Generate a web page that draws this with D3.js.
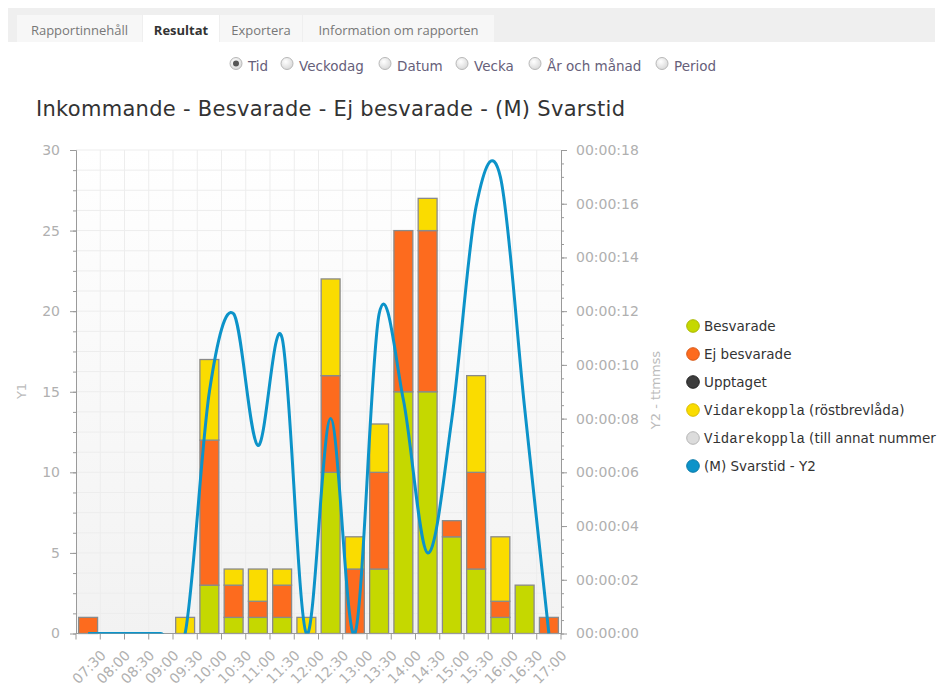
<!DOCTYPE html>
<html>
<head>
<meta charset="utf-8">
<script src="https://cdn.jsdelivr.net/npm/d3@7/dist/d3.min.js"></script>
<style>
  html, body { margin: 0; padding: 0; background: #fff; }
  svg { display: block; }
</style>
</head>
<body>
<svg id="chart" width="942" height="688"></svg>
<script>
// ---------------- DATA ----------------
const categories = ["07:30","08:00","08:30","09:00","09:30","10:00","10:30","11:00","11:30","12:00",
                    "12:30","13:00","13:30","14:00","14:30","15:00","15:30","16:00","16:30","17:00"];
const besvarade        = [0,0,0,0,0,3,1,1,1,0,10,0,4,15,15,6,4,1,3,0];
const ejBesvarade      = [1,0,0,0,0,9,2,1,2,0,6,4,6,10,10,1,6,1,0,1];
const upptaget         = [0,0,0,0,0,0,0,0,0,0,0,0,0,0,0,0,0,0,0,0];
const vidareRost       = [0,0,0,0,1,5,1,2,1,1,6,2,3,0,2,0,6,4,0,0];
const vidareAnnat      = [0,0,0,0,0,0,0,0,0,0,0,0,0,0,0,0,0,0,0,0];
const svarstidSek      = [0,0,0,0,0,9,11.9,7,11.0,0,8,0,11.9,8.7,3,8,15.9,17.0,8.4,0];

const y1Ticks = [0,5,10,15,20,25,30];
const y2Ticks = [0,2,4,6,8,10,12,14,16,18];

const tabs = ["Rapportinnehåll","Resultat","Exportera","Information om rapporten"];
const radios = ["Tid","Veckodag","Datum","Vecka","År och månad","Period"];
const title = "Inkommande - Besvarade - Ej besvarade - (M) Svarstid";

const seriesKeys = ["Besvarade","Ej besvarade","Upptaget","Vidarekoppla (röstbrevlåda)","Vidarekoppla (till annat nummer"];
const seriesColors = ["#c5d800","#fd6b1e","#3d3d3d","#fadc00","#dcdcdc"];
const lineName = "(M) Svarstid - Y2";
const lineColor = "#0c93c9";

// ---------------- SETUP ----------------
const svg = d3.select("#chart");
const FONT = "'DejaVu Sans', Verdana, sans-serif";

// Tabs
svg.append("rect").attr("x",8).attr("y",8).attr("width",927).attr("height",34).attr("fill","#efefef");
const tabX = [17,143,220,303,495];
tabs.forEach((t,i)=>{
  const x0 = tabX[i], x1 = tabX[i+1]-1;
  svg.append("rect").attr("x",x0).attr("y",15).attr("width",x1-x0).attr("height",27)
     .attr("fill", i===1 ? "#ffffff" : "#f7f7f7");
  svg.append("text").attr("x",(x0+x1)/2).attr("y",34.5).attr("text-anchor","middle")
     .attr("font-family","'Open Sans', 'Noto Sans', sans-serif").attr("font-size",13)
     .attr("font-weight", i===1 ? "bold" : "normal")
     .attr("fill", i===1 ? "#333" : "#777").text(t);
});

// Radio buttons
const defs = svg.append("defs");
const rg = defs.append("radialGradient").attr("id","radioGrad").attr("cx","40%").attr("cy","35%").attr("r","70%");
rg.append("stop").attr("offset","0%").attr("stop-color","#ffffff");
rg.append("stop").attr("offset","100%").attr("stop-color","#d6d6d6");
const radioX = [236,287,385,462,535,662];
radios.forEach((r,i)=>{
  svg.append("circle").attr("cx",radioX[i]).attr("cy",63.5).attr("r",6)
     .attr("fill","url(#radioGrad)").attr("stroke","#b8b8b8").attr("stroke-width",1);
  if (i===0) svg.append("circle").attr("cx",radioX[i]).attr("cy",63.5).attr("r",3).attr("fill","#555");
  svg.append("text").attr("x",radioX[i]+12).attr("y",71).attr("font-family",FONT).attr("font-size",13.5)
     .attr("fill","#66607a").text(r);
});

// Title
svg.append("text").attr("x",36).attr("y",116).attr("font-family",FONT).attr("font-size",21)
   .attr("textLength",589).attr("lengthAdjust","spacing")
   .attr("fill","#333").text(title);

// Scales
const px0 = 76, px1 = 561, pyTop = 150, pyBot = 633.5;
const x = d3.scaleBand().domain(categories).range([px0,px1]).paddingInner(0.22).paddingOuter(0.11);
const step = x.step();
const edge = i => px0 + i*step;
const y1 = d3.scaleLinear().domain([0,30]).range([pyBot,pyTop]);
const y2 = d3.scaleLinear().domain([0,18]).range([pyBot,pyTop]);

// Plot background
const bg = defs.append("linearGradient").attr("id","plotBg").attr("x1",0).attr("y1",0).attr("x2",0).attr("y2",1);
bg.append("stop").attr("offset","0%").attr("stop-color","#ffffff");
bg.append("stop").attr("offset","100%").attr("stop-color","#f2f2f2");
svg.append("rect").attr("x",px0).attr("y",pyTop).attr("width",px1-px0).attr("height",pyBot-pyTop).attr("fill","url(#plotBg)");

// Grid
const minorY1 = d3.range(0, 30.001, 1.25);
svg.append("g").selectAll("line").data(minorY1).join("line")
   .attr("x1",px0).attr("x2",px1).attr("y1",d=>y1(d)).attr("y2",d=>y1(d))
   .attr("stroke","#ededed").attr("stroke-width",1);
svg.append("g").selectAll("line").data(d3.range(1,categories.length)).join("line")
   .attr("x1",d=>edge(d)).attr("x2",d=>edge(d)).attr("y1",pyTop).attr("y2",pyBot)
   .attr("stroke","#ededed").attr("stroke-width",1);

// Bars
const table = categories.map((c,i)=>({
  cat:c,
  "Besvarade":besvarade[i],
  "Ej besvarade":ejBesvarade[i],
  "Upptaget":upptaget[i],
  "Vidarekoppla (röstbrevlåda)":vidareRost[i],
  "Vidarekoppla (till annat nummer":vidareAnnat[i]
}));
const stacked = d3.stack().keys(seriesKeys)(table);
svg.append("g").selectAll("g").data(stacked).join("g")
   .attr("fill",(d,i)=>seriesColors[i])
   .selectAll("rect").data(d=>d.filter(s=>s[1]-s[0]>0)).join("rect")
   .attr("x",d=>x(d.data.cat)).attr("width",x.bandwidth())
   .attr("y",d=>y1(d[1])).attr("height",d=>y1(d[0])-y1(d[1]))
   .attr("stroke","#8a8a8a").attr("stroke-width",1.3);

// Axes
const axisColor = "#9a9a9a", labelColor = "#b0b0b0";
function styleAxis(g){
  g.select(".domain").attr("stroke",axisColor);
  g.selectAll(".tick line").attr("stroke",axisColor);
  g.selectAll(".tick text").attr("fill",labelColor).attr("font-family",FONT).attr("font-size",14);
}
svg.append("g").attr("transform",`translate(${px0},0)`)
   .call(d3.axisLeft(y1).tickValues(minorY1).tickSize(3).tickFormat("").tickSizeOuter(0))
   .call(styleAxis);
svg.append("g").attr("transform",`translate(${px0},0)`)
   .call(d3.axisLeft(y1).tickValues(y1Ticks).tickSize(6).tickPadding(10).tickSizeOuter(0))
   .call(styleAxis);
const minorY2 = d3.range(0, 18.001, 0.5);
svg.append("g").attr("transform",`translate(${px1},0)`)
   .call(d3.axisRight(y2).tickValues(minorY2).tickSize(3).tickFormat("").tickSizeOuter(0))
   .call(styleAxis);
svg.append("g").attr("transform",`translate(${px1},0)`)
   .call(d3.axisRight(y2).tickValues(y2Ticks).tickSize(6).tickPadding(9).tickSizeOuter(0)
         .tickFormat(d=>"00:00:" + String(d).padStart(2,"0")))
   .call(styleAxis);

// Bottom axis
const bx = svg.append("g");
bx.append("line").attr("x1",px0).attr("x2",px1).attr("y1",pyBot).attr("y2",pyBot).attr("stroke",axisColor);
bx.selectAll("line.t").data(d3.range(0,categories.length+1)).join("line").attr("class","t")
  .attr("x1",d=>edge(d)).attr("x2",d=>edge(d)).attr("y1",pyBot).attr("y2",pyBot+6).attr("stroke",axisColor);
bx.selectAll("text").data(categories).join("text")
  .attr("transform",d=>`translate(${x(d)+x.bandwidth()/2+1},${667}) rotate(-45)`)
  .attr("text-anchor","middle").attr("dy","0.35em")
  .attr("font-family",FONT).attr("font-size",14).attr("fill",labelColor).text(d=>d);

// Axis titles
svg.append("text").attr("transform","translate(26,391) rotate(-90)").attr("text-anchor","middle")
   .attr("font-family",FONT).attr("font-size",13).attr("fill","#bbbbbb").text("Y1");
svg.append("text").attr("transform","translate(660,390) rotate(-90)").attr("text-anchor","middle")
   .attr("font-family",FONT).attr("font-size",13).attr("fill","#bbbbbb").text("Y2 - ttmmss");

// Line
defs.append("clipPath").attr("id","plotClip").append("rect")
   .attr("x",px0).attr("y",pyTop-5).attr("width",px1-px0).attr("height",pyBot-pyTop+5);
const line = d3.line()
  .x((d,i)=>x(categories[i])+x.bandwidth()/2)
  .y(d=>y2(d))
  .curve(d3.curveCardinal.tension(0));
svg.append("path").attr("d",line(svarstidSek)).attr("clip-path","url(#plotClip)")
   .attr("fill","none").attr("stroke",lineColor).attr("stroke-width",3);

// Legend
const legendItems = seriesKeys.map((k,i)=>({name:k,color:seriesColors[i]})).concat([{name:lineName,color:lineColor}]);
const strokes = ["#a9b800","#d85a18","#222","#d9bd00","#b5b5b5","#0a7aa8"];
legendItems.forEach((it,i)=>{
  const cy = 326 + i*28;
  svg.append("circle").attr("cx",693).attr("cy",cy).attr("r",6.3)
     .attr("fill",it.color).attr("stroke",strokes[i]).attr("stroke-width",1);
  const t = svg.append("text").attr("x",704).attr("y",cy+5).attr("font-family",FONT)
     .attr("font-size",13.5).attr("fill","#333");
  if (it.name.startsWith("Vidarekoppla")) {
    t.append("tspan").attr("font-family","'Liberation Mono', 'Courier New', monospace").attr("font-size",14).text("Vidarekoppla");
    t.append("tspan").text(it.name.slice("Vidarekoppla".length));
  } else {
    t.text(it.name);
  }
});
</script>
</body>
</html>
